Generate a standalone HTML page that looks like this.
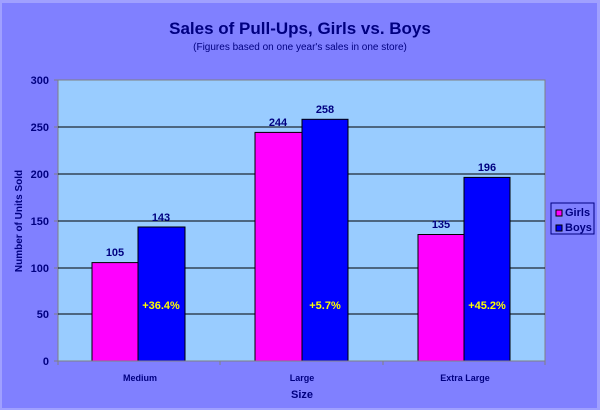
<!DOCTYPE html>
<html><head><style>
body{margin:0;width:600px;height:410px;overflow:hidden;background:#fff}
text{font-family:"Liberation Sans",sans-serif}
</style></head><body>
<svg width="600" height="410" xmlns="http://www.w3.org/2000/svg">
<rect x="0" y="0" width="600" height="410" fill="#a0a0ff"/>
<rect x="2" y="3" width="595" height="405" fill="#8080ff"/>
<text x="300" y="34" text-anchor="middle" font-size="17" font-weight="bold" fill="#000080">Sales of Pull-Ups, Girls vs. Boys</text>
<text x="300" y="50" text-anchor="middle" font-size="10" fill="#000080">(Figures based on one year's sales in one store)</text>
<rect x="58" y="80" width="487" height="281" fill="#99ccff" stroke="#808080" stroke-width="1"/>
<g stroke="#000" stroke-width="1">
<line x1="58" y1="127" x2="545" y2="127"/>
<line x1="58" y1="174" x2="545" y2="174"/>
<line x1="58" y1="221" x2="545" y2="221"/>
<line x1="58" y1="268" x2="545" y2="268"/>
<line x1="58" y1="314" x2="545" y2="314"/>
</g>
<g stroke="#000" stroke-width="1">
<rect x="92" y="262.6" width="46" height="98.4" fill="#ff00ff"/>
<rect x="138" y="227" width="47" height="134" fill="#0000ff"/>
<rect x="255" y="132.4" width="47" height="228.6" fill="#ff00ff"/>
<rect x="302" y="119.3" width="46" height="241.7" fill="#0000ff"/>
<rect x="418" y="234.5" width="46" height="126.5" fill="#ff00ff"/>
<rect x="464" y="177.4" width="46" height="183.6" fill="#0000ff"/>
</g>
<g stroke="#808080"><line x1="58" y1="361" x2="545" y2="361"/>
<line x1="58" y1="361" x2="58" y2="365"/><line x1="220" y1="361" x2="220" y2="365"/><line x1="383" y1="361" x2="383" y2="365"/><line x1="545" y1="361" x2="545" y2="365"/>
<line x1="54" y1="80" x2="58" y2="80"/><line x1="54" y1="127" x2="58" y2="127"/><line x1="54" y1="174" x2="58" y2="174"/><line x1="54" y1="221" x2="58" y2="221"/><line x1="54" y1="268" x2="58" y2="268"/><line x1="54" y1="314" x2="58" y2="314"/><line x1="54" y1="361" x2="58" y2="361"/>
</g>
<g font-size="11" font-weight="bold" fill="#000080" text-anchor="end">
<text x="49" y="84">300</text><text x="49" y="131">250</text><text x="49" y="178">200</text><text x="49" y="225">150</text><text x="49" y="272">100</text><text x="49" y="318">50</text><text x="49" y="365">0</text>
</g>
<g font-size="11" font-weight="bold" fill="#000080" text-anchor="middle">
<text x="115" y="256">105</text><text x="161" y="221">143</text>
<text x="278" y="126">244</text><text x="325" y="113">258</text>
<text x="441" y="228">135</text><text x="487" y="171">196</text>
</g>
<g font-size="11" font-weight="bold" fill="#ffff00" text-anchor="middle">
<text x="161" y="309">+36.4%</text><text x="325" y="309">+5.7%</text><text x="487" y="309">+45.2%</text>
</g>
<g font-size="9" font-weight="bold" fill="#000080" text-anchor="middle">
<text x="140" y="381">Medium</text><text x="302" y="381">Large</text><text x="465" y="381">Extra Large</text>
</g>
<text x="302" y="398" text-anchor="middle" font-size="11" font-weight="bold" fill="#000080">Size</text>
<text transform="translate(22,221) rotate(-90)" text-anchor="middle" font-size="10" font-weight="bold" fill="#000080">Number of Units Sold</text>
<rect x="551" y="203" width="43" height="31" fill="#8080ff" stroke="#000080" stroke-width="1"/>
<rect x="556" y="210" width="6" height="6" fill="#ff00ff" stroke="#000"/>
<rect x="556" y="225" width="6" height="6" fill="#0000ff" stroke="#000"/>
<text x="565" y="216" font-size="11" font-weight="bold" fill="#000080">Girls</text>
<text x="565" y="231" font-size="11" font-weight="bold" fill="#000080">Boys</text>
</svg>
</body></html>
